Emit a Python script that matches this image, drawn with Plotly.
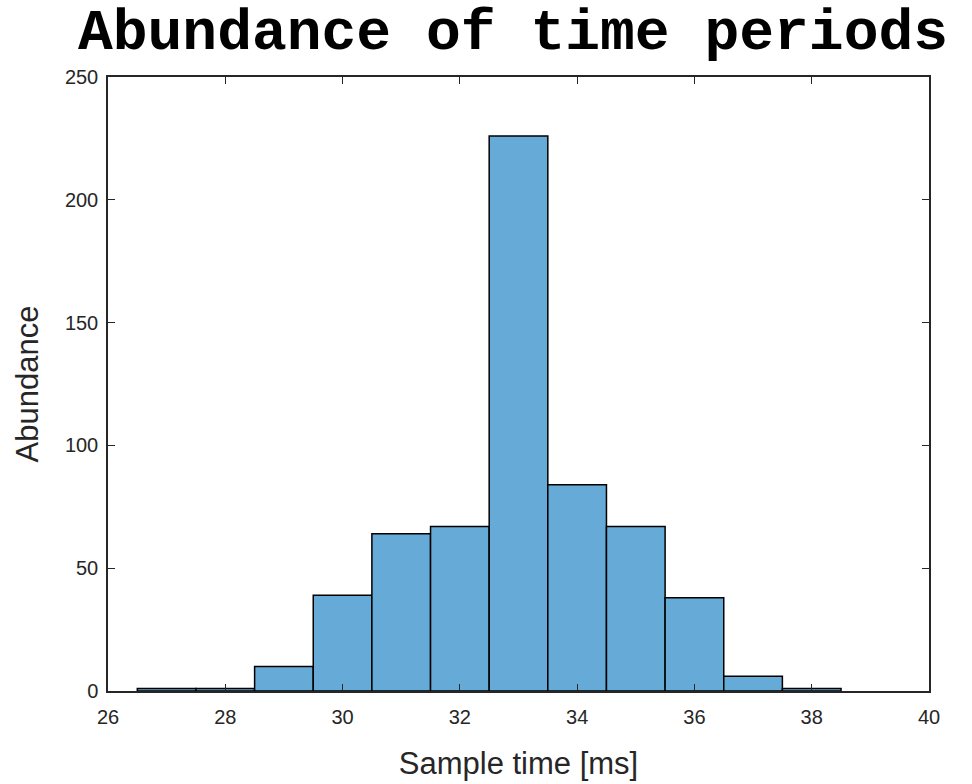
import plotly.graph_objects as go

bin_centers = [27, 28, 29, 30, 31, 32, 33, 34, 35, 36, 37, 38]
counts = [1, 1, 10, 39, 64, 67, 226, 84, 67, 38, 6, 1]
x_ticks = [26, 28, 30, 32, 34, 36, 38, 40]
y_ticks = [0, 50, 100, 150, 200, 250]

W, H = 972, 784

fig = go.Figure()
fig.add_trace(go.Bar(
    x=bin_centers, y=counts, width=1,
    marker=dict(color="rgb(102,170,215)", line=dict(color="black", width=1.5)),
))

axis_common = dict(
    showline=True, linecolor="#262626", linewidth=1.5, mirror="ticks",
    ticks="inside", ticklen=7, tickwidth=1, tickcolor="#262626",
    showgrid=False, zeroline=False, automargin=False,
    tickfont=dict(family="Liberation Sans, Arial", size=20, color="#262626"),
)

fig.update_layout(
    width=W, height=H,
    margin=dict(l=108, r=43, t=77, b=93),
    paper_bgcolor="white", plot_bgcolor="white",
    showlegend=False,
    title=dict(
        text="<b>Abundance of time periods</b>",
        font=dict(family="Liberation Mono, Courier New", size=58, color="black"),
        x=513/W, xref="container", xanchor="center",
        y=1-29/H, yref="container", yanchor="middle",
    ),
    xaxis=dict(
        range=[26, 40], tickvals=x_ticks, ticktext=[str(v) for v in x_ticks],
        ticklabelstandoff=7,
        title=dict(text="Sample time [ms]", font=dict(family="Liberation Sans, Arial", size=31, color="#262626"), standoff=26),
        **axis_common,
    ),
    yaxis=dict(
        range=[0, 250], tickvals=y_ticks, ticktext=[str(v) for v in y_ticks],
        ticklabelstandoff=4,
        title=dict(text="Abundance", font=dict(family="Liberation Sans, Arial", size=31, color="#262626"), standoff=17),
        **axis_common,
    ),
)

# remove the browser's default 8px page margin so the figure fills the window
fig.write_html("out.html", config={"displayModeBar": False},
               post_script="document.body.style.margin='0';")
